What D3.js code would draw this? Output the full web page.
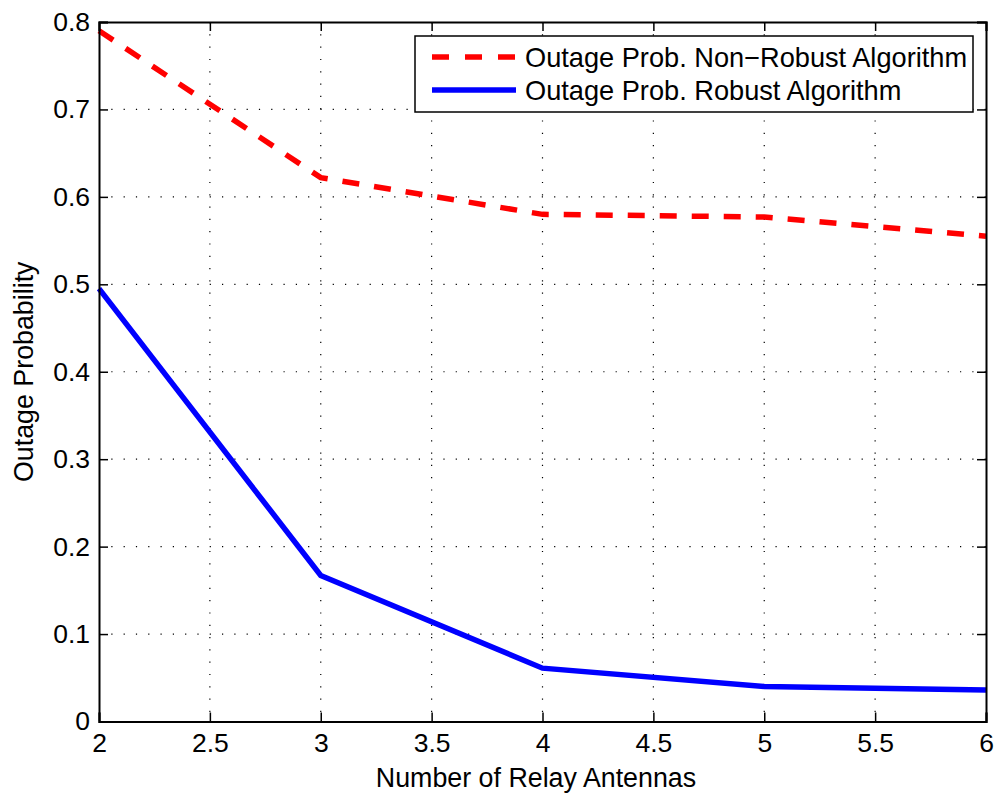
<!DOCTYPE html>
<html><head><meta charset="utf-8">
<script src="https://cdn.jsdelivr.net/npm/d3@7"></script>
<style>body{margin:0;background:#fff}svg{display:block}text{font-family:"Liberation Sans",Arial,sans-serif}</style>
</head><body><svg id="c" width="998" height="797"></svg>
<script>
const antennas = [2, 3, 4, 5, 6];
const nonRobust = [0.79, 0.622, 0.580, 0.577, 0.555];
const robust = [0.495, 0.167, 0.061, 0.040, 0.036];
const xTicks = [2, 2.5, 3, 3.5, 4, 4.5, 5, 5.5, 6];
const yTicks = [0, 0.1, 0.2, 0.3, 0.4, 0.5, 0.6, 0.7, 0.8];
const seriesNames = ["Outage Prob. Non\u2212Robust Algorithm", "Outage Prob. Robust Algorithm"];

const FS = 26.5;
const svg = d3.select("#c");
const L = 99, R = 986, T = 22, B = 721.5;
const x = d3.scaleLinear().domain([2, 6]).range([L, R]);
const y = d3.scaleLinear().domain([0, 0.8]).range([B, T]);

// grid
const g = svg.append("g");
g.selectAll(".gx").data(xTicks.slice(1, -1)).enter().append("line")
  .attr("x1", d => x(d)).attr("x2", d => x(d)).attr("y1", T).attr("y2", B)
  .attr("stroke", "#000").attr("stroke-width", 1.2).attr("stroke-dasharray", "1.2,11.1");
g.selectAll(".gy").data(yTicks.slice(1, -1)).enter().append("line")
  .attr("y1", d => y(d)).attr("y2", d => y(d)).attr("x1", L).attr("x2", R)
  .attr("stroke", "#000").attr("stroke-width", 1.2).attr("stroke-dasharray", "1.2,11.1");

// lines
const line = d3.line().x((d, i) => x(antennas[i])).y(d => y(d));
svg.append("path").datum(nonRobust).attr("d", line).attr("fill", "none")
  .attr("stroke", "#ff0000").attr("stroke-width", 5.5).attr("stroke-dasharray", "17,15");
svg.append("path").datum(robust).attr("d", line).attr("fill", "none")
  .attr("stroke", "#0000ff").attr("stroke-width", 5.5);

// axes
const tl = 9;
const axB = svg.append("g").attr("transform", `translate(0,${B})`)
  .call(d3.axisBottom(x).tickValues(xTicks).tickSize(-tl).tickPadding(12).tickFormat(d3.format("")));
const axT = svg.append("g").attr("transform", `translate(0,${T})`)
  .call(d3.axisTop(x).tickValues(xTicks).tickSize(-tl).tickFormat(""));
const axL = svg.append("g").attr("transform", `translate(${L},0)`)
  .call(d3.axisLeft(y).tickValues(yTicks).tickSize(-tl).tickPadding(9).tickFormat(d => d === 0 ? "0" : d3.format(".1f")(d)));
const axR = svg.append("g").attr("transform", `translate(${R},0)`)
  .call(d3.axisRight(y).tickValues(yTicks).tickSize(-tl).tickFormat(""));
[axB, axT, axL, axR].forEach(a => {
  a.select(".domain").attr("stroke", "#000").attr("stroke-width", 2);
  a.selectAll(".tick line").attr("stroke", "#000").attr("stroke-width", 1.5);
  a.selectAll("text").attr("font-size", FS).attr("fill", "#000")
   .style("font-family", '"Liberation Sans",Arial,sans-serif');
});
axB.selectAll("text").attr("dy", "0.71em");

// axis titles
svg.append("text").attr("x", 536).attr("y", 787).attr("text-anchor", "middle")
  .attr("font-size", 26.8).text("Number of Relay Antennas");
svg.append("text").attr("transform", `translate(33,${(T + B) / 2}) rotate(-90)`)
  .attr("text-anchor", "middle").attr("font-size", 26.8).text("Outage Probability");

// legend
const lg = svg.append("g");
lg.append("rect").attr("x", 415).attr("y", 36).attr("width", 558).attr("height", 76)
  .attr("fill", "#fff").attr("stroke", "#000").attr("stroke-width", 1.5);
const rowsY = [57, 90];
lg.append("line").attr("x1", 432).attr("x2", 516).attr("y1", rowsY[0]).attr("y2", rowsY[0])
  .attr("stroke", "#ff0000").attr("stroke-width", 5.5).attr("stroke-dasharray", "17,16");
lg.append("line").attr("x1", 432).attr("x2", 516).attr("y1", rowsY[1]).attr("y2", rowsY[1])
  .attr("stroke", "#0000ff").attr("stroke-width", 5.5);
seriesNames.forEach((s, i) => {
  lg.append("text").attr("x", 525).attr("y", rowsY[i]).attr("dy", "0.36em")
    .attr("font-size", 27.2).text(s);
});
</script></body></html>
